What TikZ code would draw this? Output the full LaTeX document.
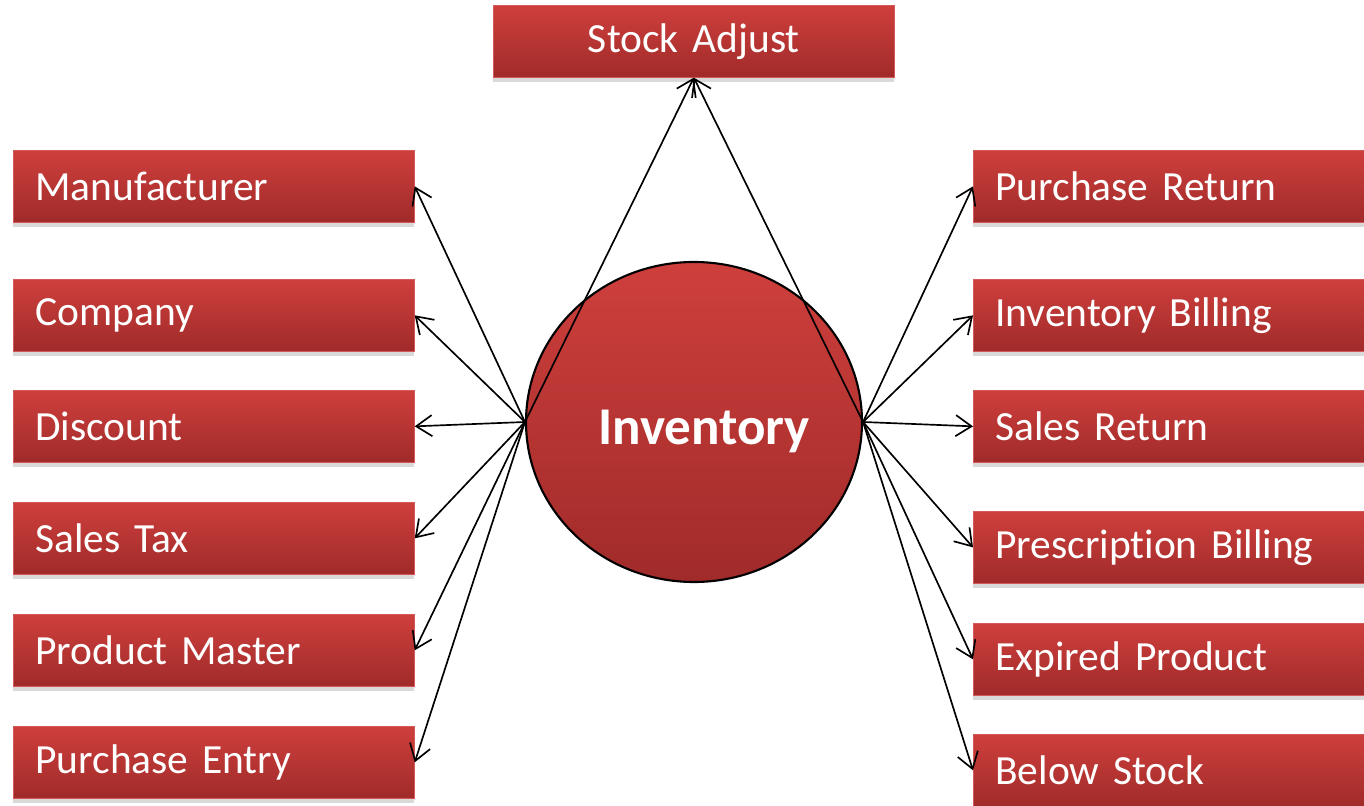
\documentclass[tikz,border=0pt]{standalone}
\usepackage{fontspec}
\setmainfont{Carlito}[Ligatures=NoCommon]
\usepackage{tikz}
\usetikzlibrary{arrows.meta,shapes.geometric,shadows}

\definecolor{redtop}{HTML}{CE3F3C}
\definecolor{redbot}{HTML}{A02B2A}
\definecolor{rededge}{HTML}{D45A58}

\tikzset{
  modbox/.style={rectangle, draw=rededge, line width=0.4pt,
    top color=redtop, bottom color=redbot,
    drop shadow={shadow xshift=0pt, shadow yshift=-2.5pt, opacity=0.3},
    minimum width=8.02cm, minimum height=1.44cm, text width=7.14cm,
    inner xsep=0.44cm, align=left, text=white,
    font=\fontsize{23.6}{28}\selectfont},
  hub/.style={ellipse, draw=black, line width=1.2pt,
    top color=redtop, bottom color=redbot,
    minimum width=6.72cm, minimum height=6.4cm, text=white,
    font=\fontsize{30.2}{34}\selectfont\bfseries},
  link/.style={-{Straight Barb[length=9pt,width=12pt]}, line width=0.95pt}
}

\begin{document}
\begin{tikzpicture}
  \useasboundingbox (0,0) rectangle (27.28,-16.12);
  % centre
  \node[hub] (inv) at (13.88,-8.44)
    {\makebox[0pt]{\hspace*{0.4cm}\raisebox{-0.45cm}[0pt][0pt]{Inventory}}};
  % top
  \node[modbox, anchor=north west, align=center] (stock) at (9.86,-0.1) {Stock Adjust};
  % left column
  \node[modbox, anchor=north west] (manu) at (0.26,-3.0) {Manufacturer};
  \node[modbox, anchor=north west] (comp) at (0.26,-5.58) {Company};
  \node[modbox, anchor=north west] (disc) at (0.26,-7.8) {Discount};
  \node[modbox, anchor=north west] (stax) at (0.26,-10.04) {Sales Tax};
  \node[modbox, anchor=north west] (prod) at (0.26,-12.28) {Product Master};
  \node[modbox, anchor=north west] (pent) at (0.26,-14.52) {Purchase Entry};
  % right column
  \node[modbox, anchor=north west] (pret) at (19.46,-3.0) {Purchase Return};
  \node[modbox, anchor=north west] (ibill) at (19.46,-5.58) {Inventory Billing};
  \node[modbox, anchor=north west] (sret) at (19.46,-7.8) {Sales Return};
  \node[modbox, anchor=north west] (pbill) at (19.46,-10.22) {Prescription Billing};
  \node[modbox, anchor=north west] (expr) at (19.46,-12.46) {Expired Product};
  \node[modbox, anchor=north west] (below) at (19.46,-14.68) {Below Stock};
  % arrows to the top box
  \draw[link] (inv.west) -- (stock.south);
  \draw[link] (inv.east) -- (stock.south);
  % arrows to the left
  \draw[link] (inv.west) -- (manu.east);
  \draw[link] (inv.west) -- (comp.east);
  \draw[link] (inv.west) -- (disc.east);
  \draw[link] (inv.west) -- (stax.east);
  \draw[link] (inv.west) -- (prod.east);
  \draw[link] (inv.west) -- (pent.east);
  % arrows to the right
  \draw[link] (inv.east) -- (pret.west);
  \draw[link] (inv.east) -- (ibill.west);
  \draw[link] (inv.east) -- (sret.west);
  \draw[link] (inv.east) -- (pbill.west);
  \draw[link] (inv.east) -- (expr.west);
  \draw[link] (inv.east) -- (below.west);
\end{tikzpicture}
\end{document}
